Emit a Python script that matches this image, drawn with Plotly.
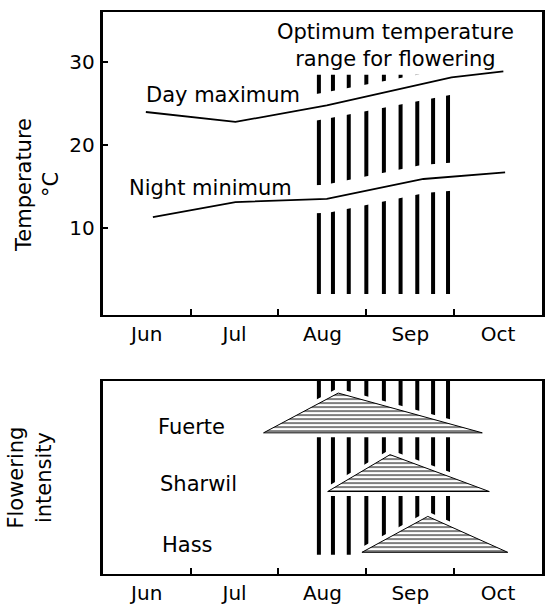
import plotly.graph_objects as go

# ---------------- data ----------------
months = ["Jun", "Jul", "Aug", "Sep", "Oct"]
month_mid = [0.5, 1.5, 2.5, 3.5, 4.5]      # month index (0 = 1 June)
month_bounds = [1, 2, 3, 4]

day_x = [0.49, 1.51, 2.55, 3.97, 4.56]
day_max = [24.0, 22.8, 24.8, 28.2, 28.9]
night_x = [0.57, 1.51, 2.55, 3.65, 4.58]
night_min = [11.3, 13.1, 13.5, 15.9, 16.7]

# dates of the hatched "optimum temperature" band
band_x = [2.46, 2.62, 2.80, 3.00, 3.20, 3.39, 3.58, 3.76, 3.93]
band_temp = [2.0, 28.5]          # temperature extent in top panel
band_flower = [1.0, 10.0]        # extent in flowering panel

cultivars = ["Fuerte", "Sharwil", "Hass"]
fl_start = [1.83, 2.56, 2.95]
fl_peak = [2.68, 3.27, 3.70]
fl_end = [4.32, 4.40, 4.61]
fl_base = [7.32, 4.28, 1.13]
fl_height = [2.06, 1.91, 1.86]
label_x = [0.60, 0.625, 0.65]
label_y = [7.63, 4.66, 1.52]

FONT = "DejaVu Sans"

fig = go.Figure()


def bars(xs, lo, hi):
    bx, by = [], []
    for x in xs:
        bx += [x, x, None]
        by += [lo, hi, None]
    return bx, by


# ---- top panel ----
bx, by = bars(band_x, band_temp[0], band_temp[1])
fig.add_trace(go.Scatter(x=bx, y=by, mode="lines", line=dict(color="black", width=4),
                         xaxis="x", yaxis="y", hoverinfo="skip"))
for xs, ys, halo in [(day_x, day_max, 26), (night_x, night_min, 28)]:
    fig.add_trace(go.Scatter(x=xs, y=ys, mode="lines", line=dict(color="white", width=halo),
                             xaxis="x", yaxis="y", hoverinfo="skip"))
    fig.add_trace(go.Scatter(x=xs, y=ys, mode="lines", line=dict(color="black", width=1.8),
                             xaxis="x", yaxis="y"))

# ---- bottom panel ----
bx, by = bars(band_x, band_flower[0], band_flower[1])
fig.add_trace(go.Scatter(x=bx, y=by, mode="lines", line=dict(color="black", width=4),
                         xaxis="x2", yaxis="y2", hoverinfo="skip"))
for s, p, e, b, h in zip(fl_start, fl_peak, fl_end, fl_base, fl_height):
    tx = [s, p, e, s]
    ty = [b, b + h, b, b]
    fig.add_trace(go.Scatter(x=tx, y=ty, mode="lines", fill="toself", fillcolor="white",
                             line=dict(color="white", width=9), xaxis="x2", yaxis="y2",
                             hoverinfo="skip"))
    fig.add_trace(go.Scatter(x=tx, y=ty, mode="lines", fill="toself", fillcolor="white",
                             fillpattern=dict(shape="-", fgcolor="black", bgcolor="white",
                                              size=4, solidity=0.5),
                             line=dict(color="black", width=1), xaxis="x2", yaxis="y2"))

# ---- annotations ----
ann = [
    dict(text="Optimum temperature<br>range for flowering", x=3.33, y=32.0, xref="x", yref="y",
         showarrow=False, xanchor="center", yanchor="middle"),
    dict(text="Day maximum", x=0.466, y=26.1, xref="x", yref="y", showarrow=False,
         xanchor="left", yanchor="middle"),
    dict(text="Night minimum", x=0.273, y=14.76, xref="x", yref="y", showarrow=False,
         xanchor="left", yanchor="middle"),
    dict(text="Temperature<br>°C", x=37 / 545, y=1 - 186 / 605, xref="paper", yref="paper",
         showarrow=False, textangle=-90, xanchor="center", yanchor="middle"),
    dict(text="Flowering<br>intensity", x=30 / 545, y=1 - 480 / 605, xref="paper", yref="paper",
         showarrow=False, textangle=-90, xanchor="center", yanchor="middle"),
]
for name, lx, ly in zip(cultivars, label_x, label_y):
    ann.append(dict(text=name, x=lx, y=ly, xref="x2", yref="y2", showarrow=False,
                    xanchor="left", yanchor="middle"))
for a in ann:
    a["font"] = dict(family=FONT, size=21, color="black")

xcommon = dict(range=[0, 5], tickvals=month_mid, ticktext=months, ticks="", ticklen=0,
               showline=True, linewidth=2, linecolor="black", mirror=True,
               showgrid=False, zeroline=False,
               tickfont=dict(family=FONT, size=20, color="black"),
               minor=dict(tickvals=month_bounds, ticks="inside", ticklen=6, tickwidth=2,
                          tickcolor="black", showgrid=False),
               domain=[103 / 545, 543 / 545])

fig.update_layout(
    width=545, height=605, margin=dict(l=0, r=0, t=0, b=0),
    paper_bgcolor="white", plot_bgcolor="white", showlegend=False,
    font=dict(family=FONT, size=20, color="black"),
    xaxis=dict(anchor="y", **xcommon),
    xaxis2=dict(anchor="y2", **xcommon),
    yaxis=dict(domain=[1 - 317 / 605, 1 - 12 / 605], range=[-0.6, 36.1],
               tickvals=[10, 20, 30], ticks="inside", ticklen=5, tickwidth=2, tickcolor="black",
               showline=True, linewidth=3, linecolor="black", mirror=True,
               showgrid=False, zeroline=False, ticklabelstandoff=1,
               tickfont=dict(family=FONT, size=20, color="black")),
    yaxis2=dict(domain=[1 - 577 / 605, 1 - 383 / 605], range=[0, 10],
                showticklabels=False, ticks="", showline=True, linewidth=3,
                linecolor="black", mirror=True, showgrid=False, zeroline=False),
    annotations=ann,
)

fig.write_html("out.html", config={"displayModeBar": False},
               post_script="document.body.style.margin='0px';")
